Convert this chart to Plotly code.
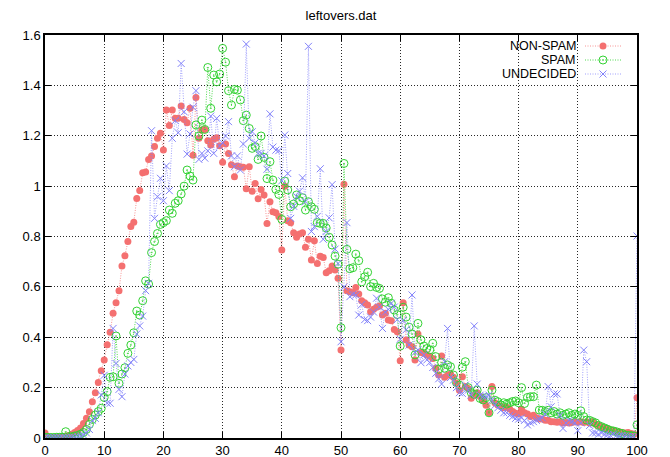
import plotly.graph_objects as go

# x positions (bins of 0.5 from 0 to 100)
x_vals = [i * 0.5 for i in range(201)]

non_spam = [
    0.02, 0.005, 0.003, 0.003, 0.003, 0.004, 0.005, 0.007, 0.010, 0.015, 0.022, 0.030, 0.040, 0.058, 0.078, 0.104, 0.144, 0.180, 0.220, 0.267,
    0.31, 0.37, 0.42, 0.495, 0.537, 0.585, 0.683, 0.724, 0.78, 0.84, 0.857, 0.951, 0.983, 1.053, 1.056, 1.106, 1.12, 1.157, 1.19, 1.21,
    1.143, 1.302, 1.241, 1.302, 1.269, 1.269, 1.318, 1.265, 1.252, 1.309, 1.123, 1.352, 1.19, 1.223, 1.225, 1.18, 1.163, 1.186, 1.192, 1.16,
    1.095, 1.167, 1.13, 1.085, 1.037, 1.08, 1.077, 1.075, 0.99, 1.077, 0.98, 1.01, 0.95, 0.987, 0.965, 0.852, 0.938, 0.898, 0.894, 0.879,
    0.746, 1.0, 0.863, 0.855, 0.815, 0.797, 0.81, 0.815, 0.757, 0.789, 0.707, 0.783, 0.693, 0.722, 0.717, 0.656, 0.664, 0.683, 0.667, 0.634,
    0.349, 1.007, 0.585, 0.581, 0.577, 0.598, 0.572, 0.545, 0.537, 0.528, 0.501, 0.511, 0.519, 0.524, 0.488, 0.495, 0.468, 0.466, 0.431, 0.422,
    0.307, 0.537, 0.389, 0.369, 0.362, 0.31, 0.413, 0.339, 0.336, 0.33, 0.325, 0.316, 0.277, 0.25, 0.326, 0.241, 0.249, 0.254, 0.241, 0.217,
    0.19, 0.243, 0.204, 0.197, 0.158, 0.17, 0.18, 0.165, 0.15, 0.13, 0.1, 0.204, 0.14, 0.131, 0.125, 0.12, 0.122, 0.115, 0.105, 0.098,
    0.095, 0.114, 0.1, 0.095, 0.085, 0.09, 0.08, 0.075, 0.075, 0.07, 0.07, 0.065, 0.065, 0.063, 0.065, 0.06, 0.062, 0.06, 0.062, 0.065,
    0.063, 0.065, 0.062, 0.065, 0.06, 0.065, 0.055, 0.05, 0.045, 0.04, 0.038, 0.033, 0.03, 0.025, 0.025, 0.022, 0.02, 0.022, 0.018, 0.015,
    0.16,
]

spam = [
    0.003, 0.002, 0.002, 0.002, 0.003, 0.003, 0.003, 0.025, 0.005, 0.005, 0.008, 0.010, 0.015, 0.022, 0.034, 0.054, 0.074, 0.091, 0.105, 0.118,
    0.161, 0.184, 0.241, 0.243, 0.405, 0.217, 0.254, 0.279, 0.336, 0.369, 0.418, 0.504, 0.488, 0.545, 0.624, 0.611, 0.736, 0.78, 0.812, 0.848,
    0.855, 0.863, 0.905, 0.892, 0.932, 0.942, 0.969, 1.0, 1.064, 1.04, 1.024, 1.243, 1.199, 1.262, 1.225, 1.471, 1.309, 1.441, 1.414, 1.445,
    1.547, 1.492, 1.379, 1.322, 1.384, 1.381, 1.342, 1.26, 1.282, 1.229, 1.15, 1.157, 1.106, 1.199, 1.114, 1.03, 1.097, 1.024, 0.987, 0.967,
    0.868, 1.02, 0.985, 0.918, 0.929, 0.965, 0.942, 0.954, 0.905, 0.938, 0.918, 0.908, 0.855, 0.852, 0.852, 0.834, 0.797, 0.766, 0.722, 0.69,
    0.438, 1.09, 0.749, 0.672, 0.676, 0.73, 0.704, 0.62, 0.64, 0.658, 0.601, 0.614, 0.598, 0.594, 0.552, 0.539, 0.557, 0.535, 0.508, 0.49,
    0.365, 0.519, 0.48, 0.44, 0.413, 0.33, 0.455, 0.39, 0.365, 0.355, 0.35, 0.376, 0.323, 0.273, 0.3, 0.277, 0.29, 0.283, 0.25, 0.22,
    0.21, 0.281, 0.303, 0.2, 0.18, 0.173, 0.19, 0.157, 0.151, 0.16, 0.1, 0.19, 0.15, 0.144, 0.131, 0.14, 0.135, 0.14, 0.145, 0.147,
    0.14, 0.2, 0.137, 0.161, 0.164, 0.164, 0.21, 0.111, 0.11, 0.105, 0.11, 0.1, 0.105, 0.095, 0.1, 0.09, 0.095, 0.1, 0.09, 0.095,
    0.09, 0.108, 0.085, 0.071, 0.07, 0.065, 0.06, 0.05, 0.045, 0.04, 0.035, 0.03, 0.028, 0.025, 0.02, 0.018, 0.012, 0.01, 0.01, 0.008,
    0.052,
]

undecided = [
    0.0, 0.002, 0.002, 0.002, 0.002, 0.002, 0.002, 0.002, 0.002, 0.003, 0.003, 0.005, 0.008, 0.012, 0.02, 0.034, 0.069, 0.078, 0.1, 0.171,
    0.249, 0.138, 0.138, 0.435, 0.296, 0.193, 0.164, 0.254, 0.286, 0.3, 0.312, 0.413, 0.445, 0.484, 0.585, 0.614, 1.22, 0.872, 0.958, 1.031,
    0.942, 1.08, 0.982, 1.19, 1.26, 1.212, 1.487, 1.295, 1.127, 1.207, 1.313, 1.379, 1.106, 1.13, 1.111, 1.14, 1.278, 1.13, 1.269, 1.159,
    1.172, 1.199, 1.256, 1.12, 1.077, 1.12, 1.064, 1.167, 1.564, 1.19, 1.216, 1.172, 1.13, 1.13, 1.12, 1.067, 1.287, 1.155, 1.143, 1.141,
    1.021, 1.203, 1.05, 0.872, 0.92, 0.958, 0.98, 1.033, 0.938, 1.555, 0.82, 0.839, 0.88, 1.069, 0.789, 0.82, 0.874, 1.006, 0.75, 0.693,
    0.382, 0.6, 0.855, 0.561, 0.57, 0.568, 0.488, 0.53, 0.47, 0.466, 0.48, 0.5, 0.555, 0.52, 0.435, 0.5, 0.51, 0.535, 0.52, 0.47,
    0.392, 0.466, 0.43, 0.369, 0.568, 0.34, 0.35, 0.299, 0.33, 0.31, 0.3, 0.28, 0.257, 0.235, 0.214, 0.303, 0.435, 0.24, 0.23, 0.2,
    0.18, 0.177, 0.21, 0.19, 0.17, 0.445, 0.214, 0.17, 0.165, 0.165, 0.17, 0.15, 0.13, 0.12, 0.11, 0.1, 0.1, 0.09, 0.085, 0.078,
    0.075, 0.08, 0.07, 0.052, 0.06, 0.065, 0.07, 0.075, 0.08, 0.095, 0.204, 0.124, 0.175, 0.175, 0.09, 0.038, 0.06, 0.07, 0.065, 0.06,
    0.029, 0.06, 0.349, 0.303, 0.05, 0.02, 0.02, 0.015, 0.02, 0.015, 0.012, 0.01, 0.015, 0.01, 0.008, 0.01, 0.008, 0.006, 0.005, 0.005,
    0.802,
]

series_names = ["NON-SPAM", "SPAM", "UNDECIDED"]
x_ticks = [0, 10, 20, 30, 40, 50, 60, 70, 80, 90, 100]
y_ticks = [0, 0.2, 0.4, 0.6, 0.8, 1.0, 1.2, 1.4, 1.6]

RED = "rgb(244,112,112)"
GREEN = "rgb(50,210,50)"
BLUE = "rgb(130,130,250)"
RED_L = "rgba(244,112,112,0.75)"
GREEN_L = "rgba(50,210,50,0.85)"
BLUE_L = "rgba(130,130,250,0.75)"
DOT = "1px,1.5px"

styles = [
    dict(line=dict(color=RED_L, width=1, dash=DOT),
         marker=dict(symbol="circle", size=7, color=RED, line=dict(width=0))),
    dict(line=dict(color=GREEN_L, width=1, dash=DOT),
         marker=dict(symbol="circle-open-dot", size=8, color=GREEN, line=dict(width=1, color=GREEN))),
    dict(line=dict(color=BLUE_L, width=1, dash=DOT),
         marker=dict(symbol="x-thin-open", size=7, color=BLUE, line=dict(width=1, color=BLUE))),
]

fig = go.Figure()
for name, ys, st in zip(series_names, [non_spam, spam, undecided], styles):
    fig.add_trace(go.Scatter(x=x_vals, y=ys, mode="lines+markers", name=name,
                             showlegend=False, cliponaxis=True, **st))

# gnuplot-style key: text right-aligned, sample to its right (overlay axis in 0..1)
W, H = 670, 457
L, R, T, B = 45, 33, 35, 19
pw, ph = W - L - R, H - T - B
key_rows_px = [46, 60, 74]
key_line_px = (585, 621)
key_text_px = 577
for name, st, ry in zip(series_names, styles, key_rows_px):
    fy = (H - B - ry) / ph
    fx0 = (key_line_px[0] - L) / pw
    fx1 = (key_line_px[1] - L) / pw
    fxm = (fx0 + fx1) / 2
    fig.add_trace(go.Scatter(x=[fx0, fx1], y=[fy, fy], mode="lines", line=st["line"],
                             xaxis="x2", yaxis="y2", showlegend=False, hoverinfo="skip"))
    fig.add_trace(go.Scatter(x=[fxm], y=[fy], mode="markers", marker=st["marker"],
                             xaxis="x2", yaxis="y2", showlegend=False, hoverinfo="skip"))
    fig.add_annotation(x=(key_text_px - L) / pw, y=fy, xref="x2", yref="y2", text=name,
                       showarrow=False, xanchor="right", yanchor="middle", borderpad=0,
                       font=dict(size=12.5, color="black"))

axis_common = dict(
    showline=True, linecolor="black", linewidth=1.5, mirror="ticks",
    ticks="inside", ticklen=6, tickcolor="black", tickwidth=1,
    showgrid=True, gridcolor="rgb(40,40,40)", griddash="1px,2px", gridwidth=1,
    zeroline=False, tickfont=dict(size=13, color="black"), automargin=False,
)

fig.update_layout(
    width=W, height=H,
    margin=dict(l=L, r=R, t=T, b=B, pad=0, autoexpand=False),
    paper_bgcolor="white", plot_bgcolor="white",
    font=dict(family="Liberation Sans, Arial, sans-serif", size=13, color="black"),
    title=dict(text="leftovers.dat", x=0.5 * (L + W - R) / W, xanchor="center",
               y=1 - 15 / H, yanchor="middle", font=dict(size=13)),
    xaxis=dict(range=[0, 100], tickvals=x_ticks, **axis_common),
    yaxis=dict(range=[0, 1.6], tickvals=y_ticks, **axis_common),
    xaxis2=dict(range=[0, 1], overlaying="x", visible=False, fixedrange=True),
    yaxis2=dict(range=[0, 1], overlaying="y", visible=False, fixedrange=True),
    showlegend=False,
)

fig.write_html("out.html")
